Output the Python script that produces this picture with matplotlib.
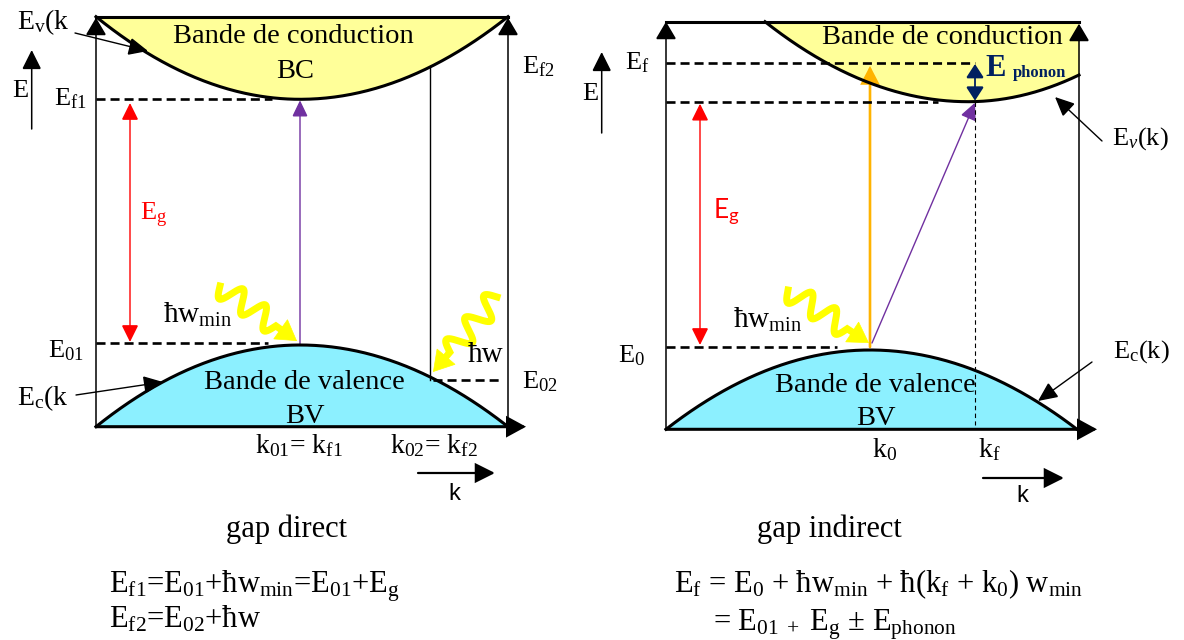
import numpy as np
import matplotlib.pyplot as plt
from matplotlib.patches import FancyArrowPatch

plt.rcParams['font.family'] = 'Liberation Serif'
plt.rcParams['mathtext.fontset'] = 'custom'
plt.rcParams['mathtext.rm'] = 'Liberation Serif'
plt.rcParams['mathtext.it'] = 'Liberation Serif:italic'
plt.rcParams['mathtext.bf'] = 'Liberation Serif:bold'
plt.rcParams['mathtext.sf'] = 'Lato'
plt.rcParams['mathtext.default'] = 'rm'
plt.rcParams['lines.scale_dashes'] = False

CB_COLOR = '#FFFF99'
VB_COLOR = '#8CF0FF'
WAVE_COLOR = '#FFFF00'

# --- direct gap panel (pixel units, y grows downward) ---
dir_k = [96, 300, 508]        # left edge, band extremum, right edge
dir_cb = [16.7, 99.3]         # conduction band: top edge, minimum
dir_vb = [426.7, 345.0]       # valence band: bottom edge, maximum
dir_Ef1, dir_E01, dir_E02 = 99, 343, 380
dir_k02 = 430

# --- indirect gap panel ---
ind_k = [666, 1079]           # left / right edges
ind_top, ind_bottom = 21.7, 429.3
ind_cb = [765, 968, 101.7, 75.0]   # band start on top edge, k of minimum, minimum, value at right edge
ind_vb = [870, 350.0]         # k0, maximum
ind_Ef, ind_Ecmin, ind_E0 = 63, 101.7, 347
ind_kf = 975


def band(xl, yl, xm, ym, xr, yr, n=300):
    x = np.linspace(xl, xr, n)
    y = np.where(x < xm,
                 ym + (yl - ym) * ((x - xm) / (xl - xm)) ** 2,
                 ym + (yr - ym) * ((x - xm) / (xr - xm)) ** 2)
    return x, y


def arrow(ax, p0, p1, color='black', lw=1.0, hl=9.5, hw=4.7, style='-|>', ls='-'):
    ax.add_patch(FancyArrowPatch(p0, p1, arrowstyle=f'{style},head_length={hl},head_width={hw}',
                                 mutation_scale=1, color=color, lw=lw, ls=ls,
                                 shrinkA=0, shrinkB=0, joinstyle='miter'))


def dashed(ax, x0, x1, y, lw=1.9):
    ax.plot([x0, x1], [y, y], color='black', lw=lw, dashes=(6.5, 3.6))


def wavy(ax, start, tip, n_waves=2.5, amp=11, head=20):
    # photon: a sine squiggle ending in a filled head
    s, t = np.array(start, float), np.array(tip, float)
    d = t - s
    L = np.hypot(*d)
    u = d / L
    nrm = np.array([-u[1], u[0]])
    wl = L - head - 6
    tt = np.linspace(0, wl, 300)
    off = amp * np.sin(2 * np.pi * n_waves * tt / wl)
    pts = s + np.outer(tt, u) + np.outer(off, nrm)
    end = s + u * (L - head + 2)
    ax.plot(np.r_[pts[:, 0], end[0]], np.r_[pts[:, 1], end[1]], color=WAVE_COLOR, lw=5,
            solid_joinstyle='miter')
    arrow(ax, tuple(s + u * (L - head)), tuple(t), color=WAVE_COLOR, lw=0.5, hl=14, hw=8.5)


def label(ax, x, y, s, size=19, **kw):
    ax.text(x, y, s, fontsize=size, ha=kw.pop('ha', 'left'), va='baseline', **kw)


fig = plt.figure(figsize=(11.84, 6.4), dpi=100)
ax = fig.add_axes([0, 0, 1, 1])
ax.set_xlim(0, 1184)
ax.set_ylim(640, 0)
ax.axis('off')

# ================= gap direct =================
xl, xm, xr = dir_k
x, y = band(xl, dir_cb[0], xm, dir_cb[1], xr, dir_cb[0])
ax.fill_between(x, dir_cb[0], y, color=CB_COLOR, lw=0)
ax.plot(x, y, color='black', lw=2.2)
x, y = band(xl, dir_vb[0], xm, dir_vb[1], xr, dir_vb[0])
ax.fill_between(x, y, dir_vb[0], color=VB_COLOR, lw=0)
ax.plot(x, y, color='black', lw=2.2)

ax.plot([xl, xr], [dir_cb[0], dir_cb[0]], color='black', lw=2.2)
arrow(ax, (xl, dir_vb[0]), (xr + 18, dir_vb[0]), lw=2.2, hl=11, hw=6)
arrow(ax, (xl, dir_vb[0]), (xl, dir_cb[0] + 1), lw=1.1, hl=11, hw=6.5)
arrow(ax, (xr, dir_vb[0]), (xr, dir_cb[0] + 1), lw=1.1, hl=11, hw=6.5)

dashed(ax, xl, 272, dir_Ef1)
dashed(ax, xl, 268, dir_E01)
dashed(ax, dir_k02 + 3, xr - 6, dir_E02)

# second transition at k02
cb_k02 = band(xl, dir_cb[0], xm, dir_cb[1], xr, dir_cb[0])
y_k02 = np.interp(dir_k02, cb_k02[0], cb_k02[1])
ax.plot([dir_k02, dir_k02], [y_k02, dir_E02], color='black', lw=1.0)

arrow(ax, (130, dir_Ef1 + 4), (130, dir_E01 - 1), color='red', lw=1.0, hl=10.5, hw=5.2, style='<|-|>')
arrow(ax, (xm, dir_vb[1]), (xm, dir_cb[1] + 1), color='#7030A0', lw=1.0, hl=10, hw=4.8)

wavy(ax, (220, 286), (297, 341))
wavy(ax, (497, 297), (433, 372))

# axis E and k indicators
arrow(ax, (31.7, 129), (31.7, 50), lw=1.1, hl=12, hw=6)
label(ax, 12, 97, 'E')
arrow(ax, (418, 473), (495, 473), lw=1.6, hl=12, hw=6)
label(ax, 448, 500, 'k', size=17, family='Liberation Sans')

# pointers to the bands
arrow(ax, (75, 33), (148, 51), lw=1.0, hl=12, hw=5.5)
arrow(ax, (76, 395), (163, 382), lw=1.0, hl=12, hw=5.5)

label(ax, 293, 43.3, 'Bande de conduction', size=20.5, ha='center')
label(ax, 295, 78.3, 'BC', size=20.5, ha='center')
label(ax, 304, 389.3, 'Bande de valence', size=20.5, ha='center')
label(ax, 305, 422.7, 'BV', size=20.5, ha='center')

label(ax, 17, 29, 'E$_v$(k', size=20)
label(ax, 54, 105, 'E$_{f1}$')
label(ax, 522, 73, 'E$_{f2}$')
label(ax, 48, 357, 'E$_{01}$')
label(ax, 522, 388, 'E$_{02}$')
label(ax, 17, 405, 'E$_c$(k', size=20)
label(ax, 140, 220, 'E$_g$', color='red')
label(ax, 163, 323, 'ħw$_{min}$', size=21)
label(ax, 468, 362, 'ħw', size=21)
label(ax, 255, 453, 'k$_{01}$= k$_{f1}$', size=20)
label(ax, 390, 453, 'k$_{02}$= k$_{f2}$', size=20)

label(ax, 286, 537, 'gap direct', size=22, ha='center')
label(ax, 109, 592, 'E$_{f1}$=E$_{01}$+ħw$_{min}$=E$_{01}$+E$_g$', size=22)
label(ax, 109, 627, 'E$_{f2}$=E$_{02}$+ħw', size=22)

# ================= gap indirect =================
il, ir = ind_k
x, y = band(ind_cb[0], ind_top, ind_cb[1], ind_cb[2], ir, ind_cb[3])
ax.fill_between(x, ind_top, y, color=CB_COLOR, lw=0)
ax.plot(x, y, color='black', lw=2.2)
x, y = band(il, ind_bottom, ind_vb[0], ind_vb[1], ir - 2, ind_bottom)
ax.fill_between(x, y, ind_bottom, color=VB_COLOR, lw=0)
ax.plot(x, y, color='black', lw=2.2)

ax.plot([il, ir], [ind_top, ind_top], color='black', lw=2.2)
arrow(ax, (il, ind_bottom), (ir + 18, ind_bottom), lw=2.2, hl=11, hw=6)
arrow(ax, (il, ind_bottom), (il, ind_top), lw=1.1, hl=11, hw=6.5)
arrow(ax, (ir, ind_bottom), (ir, ind_top + 2), lw=1.1, hl=11, hw=6.5)

dashed(ax, il, ind_kf, ind_Ef)
dashed(ax, il, 938, ind_Ecmin)
dashed(ax, il, 837, ind_E0)
ax.plot([ind_kf, ind_kf], [ind_Ecmin, ind_bottom - 4], color='black', lw=0.8, dashes=(3.2, 2.4))

arrow(ax, (700, ind_Ecmin + 2), (700, ind_E0 - 2), color='red', lw=1.0, hl=10.5, hw=5.2, style='<|-|>')
arrow(ax, (ind_vb[0], ind_E0), (ind_vb[0], ind_Ef + 3), color='#FFB300', lw=1.9, hl=10.5, hw=5.5)
arrow(ax, (ind_vb[0] + 2, 343), (ind_kf, ind_Ecmin + 1), color='#7030A0', lw=1.0, hl=10.5, hw=5)
arrow(ax, (ind_kf, ind_Ef + 1), (ind_kf, ind_Ecmin - 1), color='#002060', lw=1.3, hl=8.5, hw=5.5, style='<|-|>')

wavy(ax, (788, 290), (869, 343))

arrow(ax, (601.7, 133), (601.7, 52), lw=1.1, hl=12, hw=6)
label(ax, 582, 100, 'E')
arrow(ax, (983, 478), (1064, 478), lw=1.6, hl=12, hw=6)
label(ax, 1016, 502, 'k', size=17, family='Liberation Sans')

arrow(ax, (1102, 141), (1055, 97), lw=1.0, hl=12, hw=5.5)
arrow(ax, (1092, 362), (1038, 401), lw=1.0, hl=12, hw=5.5)

label(ax, 942, 44.3, 'Bande de conduction', size=20.5, ha='center')
label(ax, 875, 391.7, 'Bande de valence', size=20.5, ha='center')
label(ax, 876, 425, 'BV', size=20.5, ha='center')

label(ax, 985, 76, 'E', size=22, color='#002060', fontweight='bold')
label(ax, 1013, 77, 'phonon', size=12, color='#002060', fontweight='bold')

label(ax, 625, 69, 'E$_f$')
label(ax, 618, 362, 'E$_0$')
label(ax, 713, 218, r'E$_\mathsf{g}$', color='red', family='Lato')
label(ax, 733, 328, 'ħw$_{min}$', size=21)
label(ax, 1112, 145, r'E$_\mathit{v}$(k)')
label(ax, 1113, 358, 'E$_c$(k)')
label(ax, 872, 457, 'k$_0$', size=20)
label(ax, 978, 457, 'k$_f$', size=20)

label(ax, 829, 537, 'gap indirect', size=22, ha='center')
label(ax, 674, 592, 'E$_f$ = E$_0$ + ħw$_{min}$ + ħ(k$_f$ + k$_0$) w$_{min}$', size=22)
label(ax, 713, 630, r'= E$_{01\ +}$ E$_g$ ± E$_{phonon}$', size=22)

fig.savefig('out.png', dpi=100)
